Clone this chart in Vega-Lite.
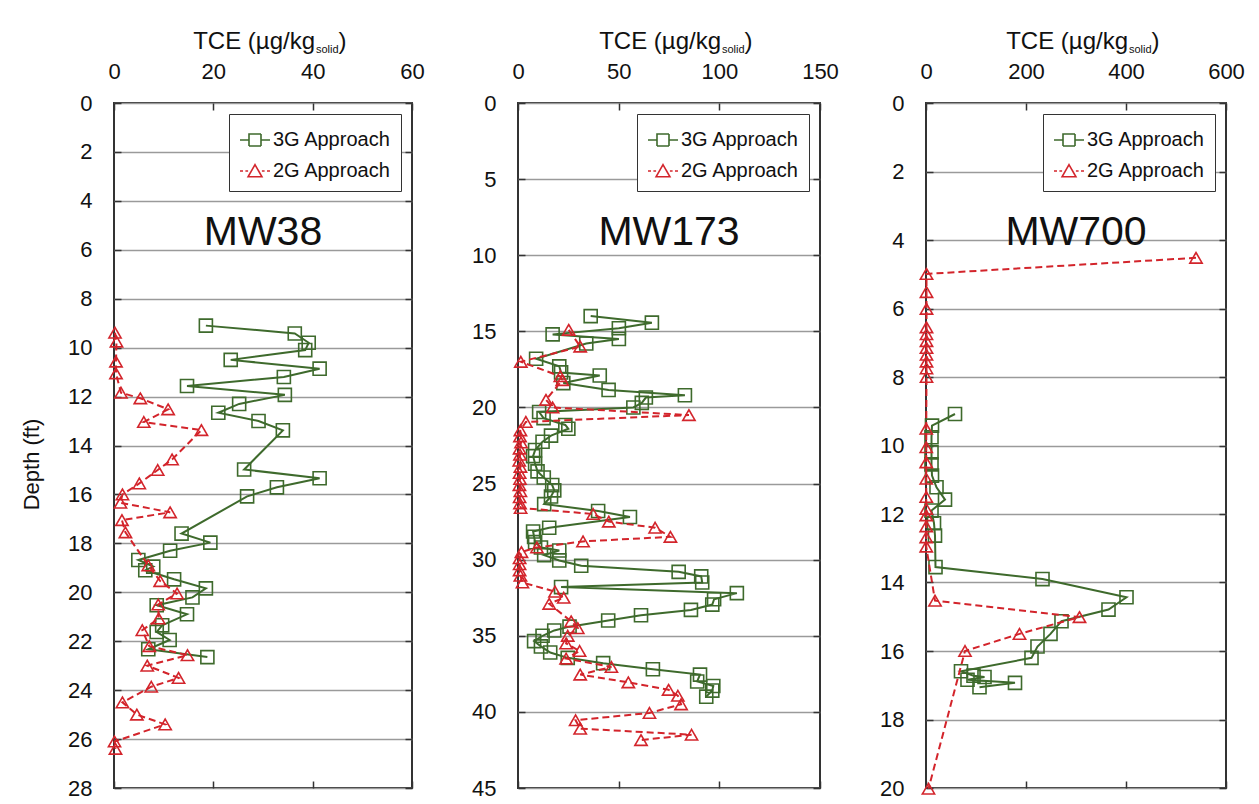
{
  "$schema": "https://vega.github.io/schema/vega-lite/v6.json",
  "background": "white",
  "padding": {"left": 19, "top": 28, "right": 20, "bottom": 10},
  "bounds": "flush",
  "spacing": 106,
  "resolve": {"scale": {"color": "independent"}, "legend": {"color": "independent"}},
  "config": {
    "font": "Liberation Sans",
    "view": {"stroke": "#333", "strokeWidth": 2},
    "axis": {
      "labelFont": "Liberation Sans", "labelFontSize": 22, "labelColor": "#111",
      "titleFont": "Liberation Sans", "titleFontSize": 24, "titleFontWeight": "normal", "titleColor": "#111",
      "tickColor": "#333", "tickWidth": 1.5, "tickSize": -7, "domain": false,
      "labelFlush": false, "labelOverlap": false
    },
    "legend": {
      "orient": "top-right", "offset": 11, "padding": 10, "rowPadding": 5,
      "labelFont": "Liberation Sans", "labelFontSize": 20, "labelColor": "#111", "labelOffset": 2,
      "symbolSize": 900, "symbolStrokeWidth": 1.6,
      "strokeColor": "#333", "fillColor": "white"
    },
    "title": {"font": "Liberation Sans", "fontWeight": "normal", "color": "#111"}
  },
  "datasets": {
    "mw38": [
      {"series": "3G Approach", "depth": 9.1, "tce": 18.5},
      {"series": "3G Approach", "depth": 9.42, "tce": 36.4},
      {"series": "3G Approach", "depth": 9.8, "tce": 39.2},
      {"series": "3G Approach", "depth": 10.1, "tce": 38.5},
      {"series": "3G Approach", "depth": 10.5, "tce": 23.5},
      {"series": "3G Approach", "depth": 10.86, "tce": 41.4},
      {"series": "3G Approach", "depth": 11.2, "tce": 34.2},
      {"series": "3G Approach", "depth": 11.57, "tce": 14.7},
      {"series": "3G Approach", "depth": 11.93, "tce": 34.4},
      {"series": "3G Approach", "depth": 12.3, "tce": 25.2},
      {"series": "3G Approach", "depth": 12.66, "tce": 21.0},
      {"series": "3G Approach", "depth": 13.0, "tce": 29.1},
      {"series": "3G Approach", "depth": 13.38, "tce": 34.0},
      {"series": "3G Approach", "depth": 14.98, "tce": 26.2},
      {"series": "3G Approach", "depth": 15.34, "tce": 41.4},
      {"series": "3G Approach", "depth": 15.71, "tce": 32.8},
      {"series": "3G Approach", "depth": 16.08, "tce": 26.8},
      {"series": "3G Approach", "depth": 17.6, "tce": 13.6},
      {"series": "3G Approach", "depth": 17.97, "tce": 19.4},
      {"series": "3G Approach", "depth": 18.3, "tce": 11.3},
      {"series": "3G Approach", "depth": 18.68, "tce": 4.9},
      {"series": "3G Approach", "depth": 18.95, "tce": 7.9},
      {"series": "3G Approach", "depth": 19.1, "tce": 6.3},
      {"series": "3G Approach", "depth": 19.47, "tce": 12.1},
      {"series": "3G Approach", "depth": 19.84, "tce": 18.5},
      {"series": "3G Approach", "depth": 20.21, "tce": 15.8},
      {"series": "3G Approach", "depth": 20.53, "tce": 8.6},
      {"series": "3G Approach", "depth": 20.9, "tce": 14.7},
      {"series": "3G Approach", "depth": 21.35, "tce": 9.7},
      {"series": "3G Approach", "depth": 21.62, "tce": 8.6},
      {"series": "3G Approach", "depth": 21.95, "tce": 11.2},
      {"series": "3G Approach", "depth": 22.33, "tce": 6.9},
      {"series": "3G Approach", "depth": 22.65, "tce": 18.8},
      {"series": "2G Approach", "depth": 9.39, "tce": 0.2},
      {"series": "2G Approach", "depth": 9.75, "tce": 0.5},
      {"series": "2G Approach", "depth": 10.57, "tce": 0.4},
      {"series": "2G Approach", "depth": 11.05, "tce": 0.4},
      {"series": "2G Approach", "depth": 11.84, "tce": 1.4},
      {"series": "2G Approach", "depth": 12.07, "tce": 5.3},
      {"series": "2G Approach", "depth": 12.52, "tce": 10.9},
      {"series": "2G Approach", "depth": 13.04, "tce": 6.0},
      {"series": "2G Approach", "depth": 13.37, "tce": 17.6},
      {"series": "2G Approach", "depth": 14.57, "tce": 11.7},
      {"series": "2G Approach", "depth": 15.0, "tce": 8.8},
      {"series": "2G Approach", "depth": 15.55, "tce": 5.1},
      {"series": "2G Approach", "depth": 16.0, "tce": 1.7},
      {"series": "2G Approach", "depth": 16.34, "tce": 1.3},
      {"series": "2G Approach", "depth": 16.73, "tce": 11.3},
      {"series": "2G Approach", "depth": 17.05, "tce": 1.6},
      {"series": "2G Approach", "depth": 17.55, "tce": 2.3},
      {"series": "2G Approach", "depth": 18.9, "tce": 6.9},
      {"series": "2G Approach", "depth": 19.54, "tce": 9.3},
      {"series": "2G Approach", "depth": 20.05, "tce": 12.7},
      {"series": "2G Approach", "depth": 20.5, "tce": 8.9},
      {"series": "2G Approach", "depth": 21.07, "tce": 9.0},
      {"series": "2G Approach", "depth": 21.55, "tce": 5.7},
      {"series": "2G Approach", "depth": 22.2, "tce": 7.1},
      {"series": "2G Approach", "depth": 22.57, "tce": 14.8},
      {"series": "2G Approach", "depth": 23.0, "tce": 6.7},
      {"series": "2G Approach", "depth": 23.5, "tce": 13.0},
      {"series": "2G Approach", "depth": 23.86, "tce": 7.5},
      {"series": "2G Approach", "depth": 24.5, "tce": 1.7},
      {"series": "2G Approach", "depth": 25.0, "tce": 4.6},
      {"series": "2G Approach", "depth": 25.4, "tce": 10.3},
      {"series": "2G Approach", "depth": 26.1, "tce": 0.1},
      {"series": "2G Approach", "depth": 26.4, "tce": 0.3}
    ],
    "mw173": [
      {"series": "3G Approach", "depth": 14.0, "tce": 36.1},
      {"series": "3G Approach", "depth": 14.43, "tce": 66.5},
      {"series": "3G Approach", "depth": 14.8, "tce": 50.1},
      {"series": "3G Approach", "depth": 15.2, "tce": 17.2},
      {"series": "3G Approach", "depth": 15.5, "tce": 50.1},
      {"series": "3G Approach", "depth": 15.8, "tce": 33.9},
      {"series": "3G Approach", "depth": 16.8, "tce": 9.0},
      {"series": "3G Approach", "depth": 17.3, "tce": 20.5},
      {"series": "3G Approach", "depth": 17.7, "tce": 21.4},
      {"series": "3G Approach", "depth": 17.9, "tce": 40.6},
      {"series": "3G Approach", "depth": 18.4, "tce": 22.5},
      {"series": "3G Approach", "depth": 18.85, "tce": 45.0},
      {"series": "3G Approach", "depth": 19.2, "tce": 82.9},
      {"series": "3G Approach", "depth": 19.35, "tce": 63.5},
      {"series": "3G Approach", "depth": 19.7, "tce": 61.5},
      {"series": "3G Approach", "depth": 20.0, "tce": 57.3},
      {"series": "3G Approach", "depth": 20.3, "tce": 10.5},
      {"series": "3G Approach", "depth": 20.7, "tce": 12.7},
      {"series": "3G Approach", "depth": 21.15, "tce": 23.5},
      {"series": "3G Approach", "depth": 21.4, "tce": 25.0},
      {"series": "3G Approach", "depth": 21.85, "tce": 16.4},
      {"series": "3G Approach", "depth": 22.25, "tce": 12.2},
      {"series": "3G Approach", "depth": 22.8, "tce": 8.5},
      {"series": "3G Approach", "depth": 23.2, "tce": 7.5},
      {"series": "3G Approach", "depth": 23.7, "tce": 8.5},
      {"series": "3G Approach", "depth": 24.2, "tce": 9.7},
      {"series": "3G Approach", "depth": 24.6, "tce": 12.8},
      {"series": "3G Approach", "depth": 25.1, "tce": 17.0},
      {"series": "3G Approach", "depth": 25.45, "tce": 18.0},
      {"series": "3G Approach", "depth": 25.85, "tce": 16.4},
      {"series": "3G Approach", "depth": 26.35, "tce": 13.0},
      {"series": "3G Approach", "depth": 26.8, "tce": 39.8},
      {"series": "3G Approach", "depth": 27.2, "tce": 55.6},
      {"series": "3G Approach", "depth": 27.9, "tce": 15.5},
      {"series": "3G Approach", "depth": 28.15, "tce": 7.5},
      {"series": "3G Approach", "depth": 28.5, "tce": 8.0},
      {"series": "3G Approach", "depth": 28.85, "tce": 8.5},
      {"series": "3G Approach", "depth": 29.2, "tce": 11.4},
      {"series": "3G Approach", "depth": 29.4, "tce": 20.5},
      {"series": "3G Approach", "depth": 29.7, "tce": 13.0},
      {"series": "3G Approach", "depth": 30.05, "tce": 20.5},
      {"series": "3G Approach", "depth": 30.4, "tce": 31.4},
      {"series": "3G Approach", "depth": 30.8, "tce": 79.8},
      {"series": "3G Approach", "depth": 31.1, "tce": 91.0},
      {"series": "3G Approach", "depth": 31.5, "tce": 91.5},
      {"series": "3G Approach", "depth": 31.8, "tce": 21.4},
      {"series": "3G Approach", "depth": 32.2, "tce": 108.7},
      {"series": "3G Approach", "depth": 32.6, "tce": 97.4},
      {"series": "3G Approach", "depth": 32.95, "tce": 96.5},
      {"series": "3G Approach", "depth": 33.3, "tce": 85.9},
      {"series": "3G Approach", "depth": 33.65, "tce": 61.1},
      {"series": "3G Approach", "depth": 34.0, "tce": 44.8},
      {"series": "3G Approach", "depth": 34.4, "tce": 25.6},
      {"series": "3G Approach", "depth": 34.65, "tce": 18.0},
      {"series": "3G Approach", "depth": 35.0, "tce": 12.2},
      {"series": "3G Approach", "depth": 35.35, "tce": 8.0},
      {"series": "3G Approach", "depth": 35.7, "tce": 11.4},
      {"series": "3G Approach", "depth": 36.1, "tce": 16.0},
      {"series": "3G Approach", "depth": 36.45, "tce": 24.7},
      {"series": "3G Approach", "depth": 36.8, "tce": 42.3},
      {"series": "3G Approach", "depth": 37.2, "tce": 67.0},
      {"series": "3G Approach", "depth": 37.55, "tce": 90.4},
      {"series": "3G Approach", "depth": 38.0, "tce": 89.0},
      {"series": "3G Approach", "depth": 38.3, "tce": 97.0},
      {"series": "3G Approach", "depth": 38.6, "tce": 96.5},
      {"series": "3G Approach", "depth": 39.0, "tce": 93.5},
      {"series": "2G Approach", "depth": 14.9, "tce": 25.2},
      {"series": "2G Approach", "depth": 16.0, "tce": 30.9},
      {"series": "2G Approach", "depth": 17.0, "tce": 1.4},
      {"series": "2G Approach", "depth": 17.95, "tce": 21.0},
      {"series": "2G Approach", "depth": 18.2, "tce": 22.0},
      {"series": "2G Approach", "depth": 19.5, "tce": 13.9},
      {"series": "2G Approach", "depth": 20.0, "tce": 17.2},
      {"series": "2G Approach", "depth": 20.5, "tce": 84.9},
      {"series": "2G Approach", "depth": 20.95, "tce": 3.9},
      {"series": "2G Approach", "depth": 21.5, "tce": 1.2},
      {"series": "2G Approach", "depth": 21.9, "tce": 1.0},
      {"series": "2G Approach", "depth": 22.3, "tce": 1.5},
      {"series": "2G Approach", "depth": 22.7, "tce": 0.8},
      {"series": "2G Approach", "depth": 23.1, "tce": 1.0},
      {"series": "2G Approach", "depth": 23.5, "tce": 0.6},
      {"series": "2G Approach", "depth": 23.9, "tce": 1.2},
      {"series": "2G Approach", "depth": 24.3, "tce": 0.8},
      {"series": "2G Approach", "depth": 24.7, "tce": 1.0},
      {"series": "2G Approach", "depth": 25.1, "tce": 0.7},
      {"series": "2G Approach", "depth": 25.5, "tce": 1.2},
      {"series": "2G Approach", "depth": 25.9, "tce": 0.8},
      {"series": "2G Approach", "depth": 26.3, "tce": 1.0},
      {"series": "2G Approach", "depth": 26.6, "tce": 1.3},
      {"series": "2G Approach", "depth": 27.0, "tce": 37.3},
      {"series": "2G Approach", "depth": 27.5, "tce": 45.1},
      {"series": "2G Approach", "depth": 27.9, "tce": 68.1},
      {"series": "2G Approach", "depth": 28.5, "tce": 75.7},
      {"series": "2G Approach", "depth": 28.8, "tce": 32.3},
      {"series": "2G Approach", "depth": 29.2, "tce": 9.4},
      {"series": "2G Approach", "depth": 29.5, "tce": 1.7},
      {"series": "2G Approach", "depth": 29.9, "tce": 0.8},
      {"series": "2G Approach", "depth": 30.3, "tce": 0.8},
      {"series": "2G Approach", "depth": 30.7, "tce": 0.8},
      {"series": "2G Approach", "depth": 31.05, "tce": 1.2},
      {"series": "2G Approach", "depth": 31.5, "tce": 2.2},
      {"series": "2G Approach", "depth": 32.1, "tce": 18.4},
      {"series": "2G Approach", "depth": 32.5, "tce": 22.7},
      {"series": "2G Approach", "depth": 32.9, "tce": 15.5},
      {"series": "2G Approach", "depth": 34.05, "tce": 26.4},
      {"series": "2G Approach", "depth": 34.5, "tce": 29.7},
      {"series": "2G Approach", "depth": 35.0, "tce": 24.7},
      {"series": "2G Approach", "depth": 35.5, "tce": 23.9},
      {"series": "2G Approach", "depth": 36.0, "tce": 30.6},
      {"series": "2G Approach", "depth": 36.5, "tce": 23.9},
      {"series": "2G Approach", "depth": 37.05, "tce": 46.4},
      {"series": "2G Approach", "depth": 37.55, "tce": 30.9},
      {"series": "2G Approach", "depth": 38.06, "tce": 54.8},
      {"series": "2G Approach", "depth": 38.55, "tce": 74.8},
      {"series": "2G Approach", "depth": 38.94, "tce": 79.4},
      {"series": "2G Approach", "depth": 39.5, "tce": 81.0},
      {"series": "2G Approach", "depth": 40.07, "tce": 65.3},
      {"series": "2G Approach", "depth": 40.55, "tce": 28.6},
      {"series": "2G Approach", "depth": 41.1, "tce": 30.9},
      {"series": "2G Approach", "depth": 41.5, "tce": 86.2},
      {"series": "2G Approach", "depth": 41.85, "tce": 61.1}
    ],
    "mw700": [
      {"series": "3G Approach", "depth": 9.08, "tce": 58},
      {"series": "3G Approach", "depth": 9.42, "tce": 12},
      {"series": "3G Approach", "depth": 9.76, "tce": 11},
      {"series": "3G Approach", "depth": 10.2, "tce": 11},
      {"series": "3G Approach", "depth": 10.55, "tce": 11},
      {"series": "3G Approach", "depth": 10.88, "tce": 12},
      {"series": "3G Approach", "depth": 11.22, "tce": 21},
      {"series": "3G Approach", "depth": 11.58, "tce": 38},
      {"series": "3G Approach", "depth": 11.9, "tce": 11},
      {"series": "3G Approach", "depth": 12.27, "tce": 16},
      {"series": "3G Approach", "depth": 12.63, "tce": 18},
      {"series": "3G Approach", "depth": 13.55, "tce": 19},
      {"series": "3G Approach", "depth": 13.9, "tce": 233},
      {"series": "3G Approach", "depth": 14.43, "tce": 401},
      {"series": "3G Approach", "depth": 14.79, "tce": 365},
      {"series": "3G Approach", "depth": 15.13, "tce": 271},
      {"series": "3G Approach", "depth": 15.5, "tce": 249},
      {"series": "3G Approach", "depth": 15.87, "tce": 223},
      {"series": "3G Approach", "depth": 16.2, "tce": 211},
      {"series": "3G Approach", "depth": 16.59, "tce": 70},
      {"series": "3G Approach", "depth": 16.72, "tce": 95},
      {"series": "3G Approach", "depth": 16.76, "tce": 117},
      {"series": "3G Approach", "depth": 16.84, "tce": 83},
      {"series": "3G Approach", "depth": 16.93, "tce": 178},
      {"series": "3G Approach", "depth": 17.06, "tce": 107},
      {"series": "2G Approach", "depth": 4.52, "tce": 540},
      {"series": "2G Approach", "depth": 4.99, "tce": 1},
      {"series": "2G Approach", "depth": 5.52, "tce": 1},
      {"series": "2G Approach", "depth": 6.01, "tce": 1},
      {"series": "2G Approach", "depth": 6.55, "tce": 1},
      {"series": "2G Approach", "depth": 6.75, "tce": 1},
      {"series": "2G Approach", "depth": 6.95, "tce": 1},
      {"series": "2G Approach", "depth": 7.15, "tce": 1},
      {"series": "2G Approach", "depth": 7.35, "tce": 1},
      {"series": "2G Approach", "depth": 7.55, "tce": 1},
      {"series": "2G Approach", "depth": 7.75, "tce": 1},
      {"series": "2G Approach", "depth": 8.0, "tce": 1},
      {"series": "2G Approach", "depth": 9.51, "tce": 0.5},
      {"series": "2G Approach", "depth": 10.05, "tce": 0.5},
      {"series": "2G Approach", "depth": 10.49, "tce": 0.5},
      {"series": "2G Approach", "depth": 10.97, "tce": 0.5},
      {"series": "2G Approach", "depth": 11.5, "tce": 0.5},
      {"series": "2G Approach", "depth": 11.85, "tce": 0.5},
      {"series": "2G Approach", "depth": 12.04, "tce": 0.5},
      {"series": "2G Approach", "depth": 12.36, "tce": 0.5},
      {"series": "2G Approach", "depth": 12.68, "tce": 0.5},
      {"series": "2G Approach", "depth": 12.95, "tce": 0.5},
      {"series": "2G Approach", "depth": 14.53, "tce": 18},
      {"series": "2G Approach", "depth": 15.01, "tce": 307},
      {"series": "2G Approach", "depth": 15.5, "tce": 187},
      {"series": "2G Approach", "depth": 16.0, "tce": 78},
      {"series": "2G Approach", "depth": 20.02, "tce": 5}
    ]
  },
  "hconcat": [
    {
      "width": 298, "height": 685,
      "data": {"name": "mw38"},
      "title": {"text": "MW38", "fontSize": 41, "offset": -257, "baseline": "alphabetic", "anchor": "middle"},
      "encoding": {
        "order": {"field": "depth", "type": "quantitative"},
        "color": {
          "field": "series", "type": "nominal",
          "scale": {"domain": ["3G Approach", "2G Approach"], "range": ["#3e6a2c", "#d3242b"]},
          "legend": {
            "title": null,
            "encode": {"symbols": {"update": {
              "shape": {"signal": "datum.value === '3G Approach' ? 'M-1,0H-0.4M0.4,0H1M-0.4,-0.4H0.4V0.4H-0.4Z' : 'M-1,0H-0.8M-0.64,0H-0.46M0.46,0H0.64M0.8,0H1M0,-0.42L0.46,0.38H-0.46Z'"},
              "fill": {"value": "transparent"},
              "strokeDash": {"value": [1, 0]}
            }}}
          }
        }
      },
      "layer": [
        {
          "transform": [{"filter": "datum.series === '3G Approach'"}],
          "mark": {"type": "line", "strokeWidth": 2, "point": {"shape": "square", "filled": false, "size": 170, "strokeWidth": 1.6}},
          "encoding": {
            "x": {"field": "tce", "type": "quantitative", "scale": {"domain": [0, 60], "nice": false},
              "axis": {"orient": "top", "values": [0, 20, 40, 60], "grid": false, "labelPadding": 27,
                "title": "TCE (µg/kg", "titleX": 200.5, "titleY": -55, "titleAlign": "right", "titleBaseline": "alphabetic", "titleAngle": 0}},
            "y": {"field": "depth", "type": "quantitative", "scale": {"domain": [0, 28], "reverse": true, "nice": false, "zero": false},
              "axis": {"orient": "left", "values": [0, 2, 4, 6, 8, 10, 12, 14, 16, 18, 20, 22, 24, 26, 28], "grid": true, "gridColor": "#9a9a9a", "gridWidth": 1.5, "labelPadding": 29,
                "title": "Depth (ft)", "titleFontSize": 22, "titleX": -83, "titleY": 361, "titleAngle": 270, "titleAlign": "center", "titleBaseline": "middle"}}
          }
        },
        {
          "transform": [{"filter": "datum.series === '2G Approach'"}],
          "mark": {"type": "line", "strokeWidth": 2, "strokeDash": [7, 4], "point": {"shape": "triangle-up", "filled": false, "size": 150, "strokeWidth": 1.6, "strokeDash": [1, 0]}},
          "encoding": {
            "x": {"field": "tce", "type": "quantitative", "scale": {"domain": [0, 60], "nice": false},
              "axis": {"orient": "bottom", "values": [0, 20, 40, 60], "grid": false, "labels": false,
                "title": "solid", "titleFontSize": 11, "titleX": 201.5, "titleY": -736, "titleAlign": "left", "titleBaseline": "alphabetic", "titleAngle": 0}},
            "y": {"field": "depth", "type": "quantitative", "scale": {"domain": [0, 28], "reverse": true, "nice": false, "zero": false},
              "axis": {"orient": "right", "values": [0, 2, 4, 6, 8, 10, 12, 14, 16, 18, 20, 22, 24, 26, 28], "grid": false, "labels": false,
                "title": ")", "titleX": -73.9, "titleY": -55, "titleAngle": 0, "titleAlign": "left", "titleBaseline": "alphabetic"}}
          }
        }
      ],
      "resolve": {"axis": {"x": "independent", "y": "independent"}}
    },
    {
      "width": 302, "height": 685,
      "data": {"name": "mw173"},
      "title": {"text": "MW173", "fontSize": 41, "offset": -257, "baseline": "alphabetic", "anchor": "middle"},
      "encoding": {
        "order": {"field": "depth", "type": "quantitative"},
        "color": {
          "field": "series", "type": "nominal",
          "scale": {"domain": ["3G Approach", "2G Approach"], "range": ["#3e6a2c", "#d3242b"]},
          "legend": {
            "title": null,
            "encode": {"symbols": {"update": {
              "shape": {"signal": "datum.value === '3G Approach' ? 'M-1,0H-0.4M0.4,0H1M-0.4,-0.4H0.4V0.4H-0.4Z' : 'M-1,0H-0.8M-0.64,0H-0.46M0.46,0H0.64M0.8,0H1M0,-0.42L0.46,0.38H-0.46Z'"},
              "fill": {"value": "transparent"},
              "strokeDash": {"value": [1, 0]}
            }}}
          }
        }
      },
      "layer": [
        {
          "transform": [{"filter": "datum.series === '3G Approach'"}],
          "mark": {"type": "line", "strokeWidth": 2, "point": {"shape": "square", "filled": false, "size": 170, "strokeWidth": 1.6}},
          "encoding": {
            "x": {"field": "tce", "type": "quantitative", "scale": {"domain": [0, 150], "nice": false},
              "axis": {"orient": "top", "values": [0, 50, 100, 150], "grid": false, "labelPadding": 27,
                "title": "TCE (µg/kg", "titleX": 202.5, "titleY": -55, "titleAlign": "right", "titleBaseline": "alphabetic", "titleAngle": 0}},
            "y": {"field": "depth", "type": "quantitative", "scale": {"domain": [0, 45], "reverse": true, "nice": false, "zero": false},
              "axis": {"orient": "left", "values": [0, 5, 10, 15, 20, 25, 30, 35, 40, 45], "grid": true, "gridColor": "#9a9a9a", "gridWidth": 1.5, "labelPadding": 29, "title": null}}
          }
        },
        {
          "transform": [{"filter": "datum.series === '2G Approach'"}],
          "mark": {"type": "line", "strokeWidth": 2, "strokeDash": [7, 4], "point": {"shape": "triangle-up", "filled": false, "size": 150, "strokeWidth": 1.6, "strokeDash": [1, 0]}},
          "encoding": {
            "x": {"field": "tce", "type": "quantitative", "scale": {"domain": [0, 150], "nice": false},
              "axis": {"orient": "bottom", "values": [0, 50, 100, 150], "grid": false, "labels": false,
                "title": "solid", "titleFontSize": 11, "titleX": 203.5, "titleY": -736, "titleAlign": "left", "titleBaseline": "alphabetic", "titleAngle": 0}},
            "y": {"field": "depth", "type": "quantitative", "scale": {"domain": [0, 45], "reverse": true, "nice": false, "zero": false},
              "axis": {"orient": "right", "values": [0, 5, 10, 15, 20, 25, 30, 35, 40, 45], "grid": false, "labels": false,
                "title": ")", "titleX": -75.9, "titleY": -55, "titleAngle": 0, "titleAlign": "left", "titleBaseline": "alphabetic"}}
          }
        }
      ],
      "resolve": {"axis": {"x": "independent", "y": "independent"}}
    },
    {
      "width": 300, "height": 685,
      "data": {"name": "mw700"},
      "title": {"text": "MW700", "fontSize": 41, "offset": -257, "baseline": "alphabetic", "anchor": "middle"},
      "encoding": {
        "order": {"field": "depth", "type": "quantitative"},
        "color": {
          "field": "series", "type": "nominal",
          "scale": {"domain": ["3G Approach", "2G Approach"], "range": ["#3e6a2c", "#d3242b"]},
          "legend": {
            "title": null,
            "encode": {"symbols": {"update": {
              "shape": {"signal": "datum.value === '3G Approach' ? 'M-1,0H-0.4M0.4,0H1M-0.4,-0.4H0.4V0.4H-0.4Z' : 'M-1,0H-0.8M-0.64,0H-0.46M0.46,0H0.64M0.8,0H1M0,-0.42L0.46,0.38H-0.46Z'"},
              "fill": {"value": "transparent"},
              "strokeDash": {"value": [1, 0]}
            }}}
          }
        }
      },
      "layer": [
        {
          "transform": [{"filter": "datum.series === '3G Approach'"}],
          "mark": {"type": "line", "strokeWidth": 2, "point": {"shape": "square", "filled": false, "size": 170, "strokeWidth": 1.6}},
          "encoding": {
            "x": {"field": "tce", "type": "quantitative", "scale": {"domain": [0, 600], "nice": false},
              "axis": {"orient": "top", "values": [0, 200, 400, 600], "grid": false, "labelPadding": 27,
                "title": "TCE (µg/kg", "titleX": 201.5, "titleY": -55, "titleAlign": "right", "titleBaseline": "alphabetic", "titleAngle": 0}},
            "y": {"field": "depth", "type": "quantitative", "scale": {"domain": [0, 20], "reverse": true, "nice": false, "zero": false},
              "axis": {"orient": "left", "values": [0, 2, 4, 6, 8, 10, 12, 14, 16, 18, 20], "grid": true, "gridColor": "#9a9a9a", "gridWidth": 1.5, "labelPadding": 29, "title": null}}
          }
        },
        {
          "transform": [{"filter": "datum.series === '2G Approach'"}],
          "mark": {"type": "line", "strokeWidth": 2, "strokeDash": [7, 4], "point": {"shape": "triangle-up", "filled": false, "size": 150, "strokeWidth": 1.6, "strokeDash": [1, 0]}},
          "encoding": {
            "x": {"field": "tce", "type": "quantitative", "scale": {"domain": [0, 600], "nice": false},
              "axis": {"orient": "bottom", "values": [0, 200, 400, 600], "grid": false, "labels": false,
                "title": "solid", "titleFontSize": 11, "titleX": 202.5, "titleY": -736, "titleAlign": "left", "titleBaseline": "alphabetic", "titleAngle": 0}},
            "y": {"field": "depth", "type": "quantitative", "scale": {"domain": [0, 20], "reverse": true, "nice": false, "zero": false},
              "axis": {"orient": "right", "values": [0, 2, 4, 6, 8, 10, 12, 14, 16, 18, 20], "grid": false, "labels": false,
                "title": ")", "titleX": -74.9, "titleY": -55, "titleAngle": 0, "titleAlign": "left", "titleBaseline": "alphabetic"}}
          }
        }
      ],
      "resolve": {"axis": {"x": "independent", "y": "independent"}}
    }
  ]
}
